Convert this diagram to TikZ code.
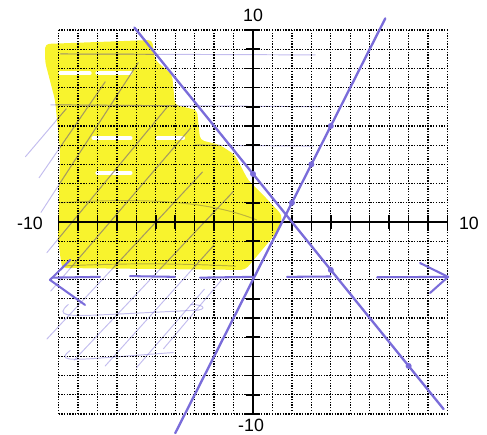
\documentclass[tikz,border=0pt]{standalone}
\usepackage{fontspec}
\setmainfont{Liberation Sans}
\usepackage{tikz}
\usetikzlibrary{arrows.meta,calc}
\definecolor{hilite}{RGB}{248,243,45}
\definecolor{penviolet}{RGB}{122,108,218}
\definecolor{penolive}{RGB}{150,138,70}

% highlighted part of the plane
\def\hiliteregion{(-10.69,9.27) -- (-5.19,9.48) -- (-5.04,8.44) -- (-4.16,7.66) -- (-4.01,6.09)
  -- (-2.88,5.83) -- (-2.72,4.27) -- (-1.70,4.01) -- (-0.93,3.49) -- (-0.26,2.19) -- (0.62,1.30)
  -- (1.49,0.36) -- (1.39,-0.31) -- (0.77,-1.09) -- (-0.05,-2.08) -- (-0.41,-2.50) -- (-9.82,-2.40)
  -- (-10.03,-0.94) -- (-9.92,3.75) -- (-10.18,6.35) -- (-10.69,8.33) -- cycle}
% pencil strokes (x1/y1/x2/y2)
\def\scribbles{-11.7/3.4/-9.6/5.9, -11.0/2.3/-7.6/7.3, -10.9/0.5/-5.9/8.3, -10.6/-1.6/-4.4/6.0,
  -10.4/-3.6/-3.2/4.9, -10.6/-6.1/-2.6/2.6, -9.2/-7.2/-1.0/1.6, -7.6/-7.5/-2.0/-1.2,
  -6.0/-7.6/-2.5/-3.5, -4.6/-6.6/-1.6/-3.0, -9.9/8.75/3.2/8.7, -10.4/6.1/3.5/6.0, -3.0/4.0/3.1/3.95}

\begin{document}
\begin{tikzpicture}[x=0.5cm, y=0.4936cm, every node/.style={font=\fontsize{13}{15}\selectfont},
  gridline/.style={line width=0.95pt, dash pattern=on 1pt off 1pt},
  pen/.style={penviolet, line width=1.7pt, line cap=round, line join=round},
  faint/.style={penviolet, opacity=0.45, line width=0.7pt, line cap=round},
  gap/.style={white, line width=3pt, line cap=round}]
\useasboundingbox (-13.01,-11.09) rectangle (12.03,11.56);
% highlighter
\fill[hilite, rounded corners=3pt] \hiliteregion;
\draw[gap] (-9.9,7.75) -- (-8.4,7.75);
\draw[gap] (-8.0,7.76) -- (-6.3,7.76);
\draw[gap] (-8.2,4.37) -- (-6.3,4.37);
\draw[gap] (-4.9,4.37) -- (-3.6,4.37);
\draw[gap] (-8.0,2.55) -- (-6.3,2.55);
% pencil hatching
\foreach \xa/\ya/\xb/\yb in \scribbles {\draw[faint] (\xa,\ya) -- (\xb,\yb);}
\begin{scope}
\clip \hiliteregion;
\foreach \xa/\ya/\xb/\yb in \scribbles {\draw[penolive, opacity=0.6, line width=0.7pt] (\xa,\ya) -- (\xb,\yb);}
\draw[penolive, opacity=0.6, line width=0.7pt] (-9.9,1.0) .. controls (-5,1.3) and (-2,1.0) .. (0.2,0.1);
\draw[penolive, opacity=0.6, line width=0.7pt] (-9.9,-2.3) .. controls (-6,-2.1) and (-3,-2.2) .. (-0.9,-2.3);
\end{scope}
\draw[faint] (-9.5,-4.3) .. controls (-10.2,-4.9) and (-9.5,-4.9) .. (-8,-4.85) -- (-3.0,-4.6)
  .. controls (-2.4,-4.6) and (-2.4,-4.3) .. (-3.2,-4.3);
\draw[faint] (-9.4,-6.7) .. controls (-10.1,-7.2) and (-9.4,-7.2) .. (-8,-7.1) -- (-4.1,-6.8);
% grid and axes
\foreach \i in {-10,...,10} {
  \draw[gridline] (\i,-10) -- (\i,10);
  \draw[gridline] (-10,\i) -- (10,\i);
  \draw[line width=1.1pt] (\i,-0.35) -- (\i,0.35);
  \draw[line width=1.1pt] (-0.35,\i) -- (0.35,\i);
}
\draw[line width=1.5pt] (-10,0) -- (10,0);
\draw[line width=1.5pt] (0,-10) -- (0,10);
\node (ymax) at (0,10.78) {10};
\node (ymin) at (-0.1,-10.57) {-10};
\node (xmin) at (-11.47,-0.05) {-10};
\node (xmax) at (11.1,-0.05) {10};
% the two lines
\draw[pen] (-6.1,10.125) -- (9.8,-9.75);
\draw[pen] (-4,-11) -- (6.8,10.6);
\foreach \p in {(0,2.5),(4,-2.5),(8,-7.5),(2,1),(3,3),(4,5)} {\fill[penviolet] \p circle (2.2pt);}
% hand drawn horizontal with arrows
\draw[pen, line width=1.5pt] (-9.4,-1.98) -- (-10.44,-3.02) -- (-8.64,-4.32);
\draw[pen, line width=1.5pt] (-10.3,-2.9) -- (-7.87,-2.86);
\draw[pen, line width=1.5pt] (-6.32,-2.82) -- (-4.01,-2.86);
\draw[pen, line width=1.5pt] (-2.72,-2.9) -- (0,-2.86);
\draw[pen, line width=1.5pt] (1.75,-2.86) -- (4.0,-2.84);
\draw[pen, line width=1.5pt] (6.38,-2.88) -- (10.0,-2.86);
\draw[pen, line width=1.5pt] (8.59,-2.14) -- (10.03,-2.86) -- (9.1,-3.7);
\end{tikzpicture}
\end{document}
